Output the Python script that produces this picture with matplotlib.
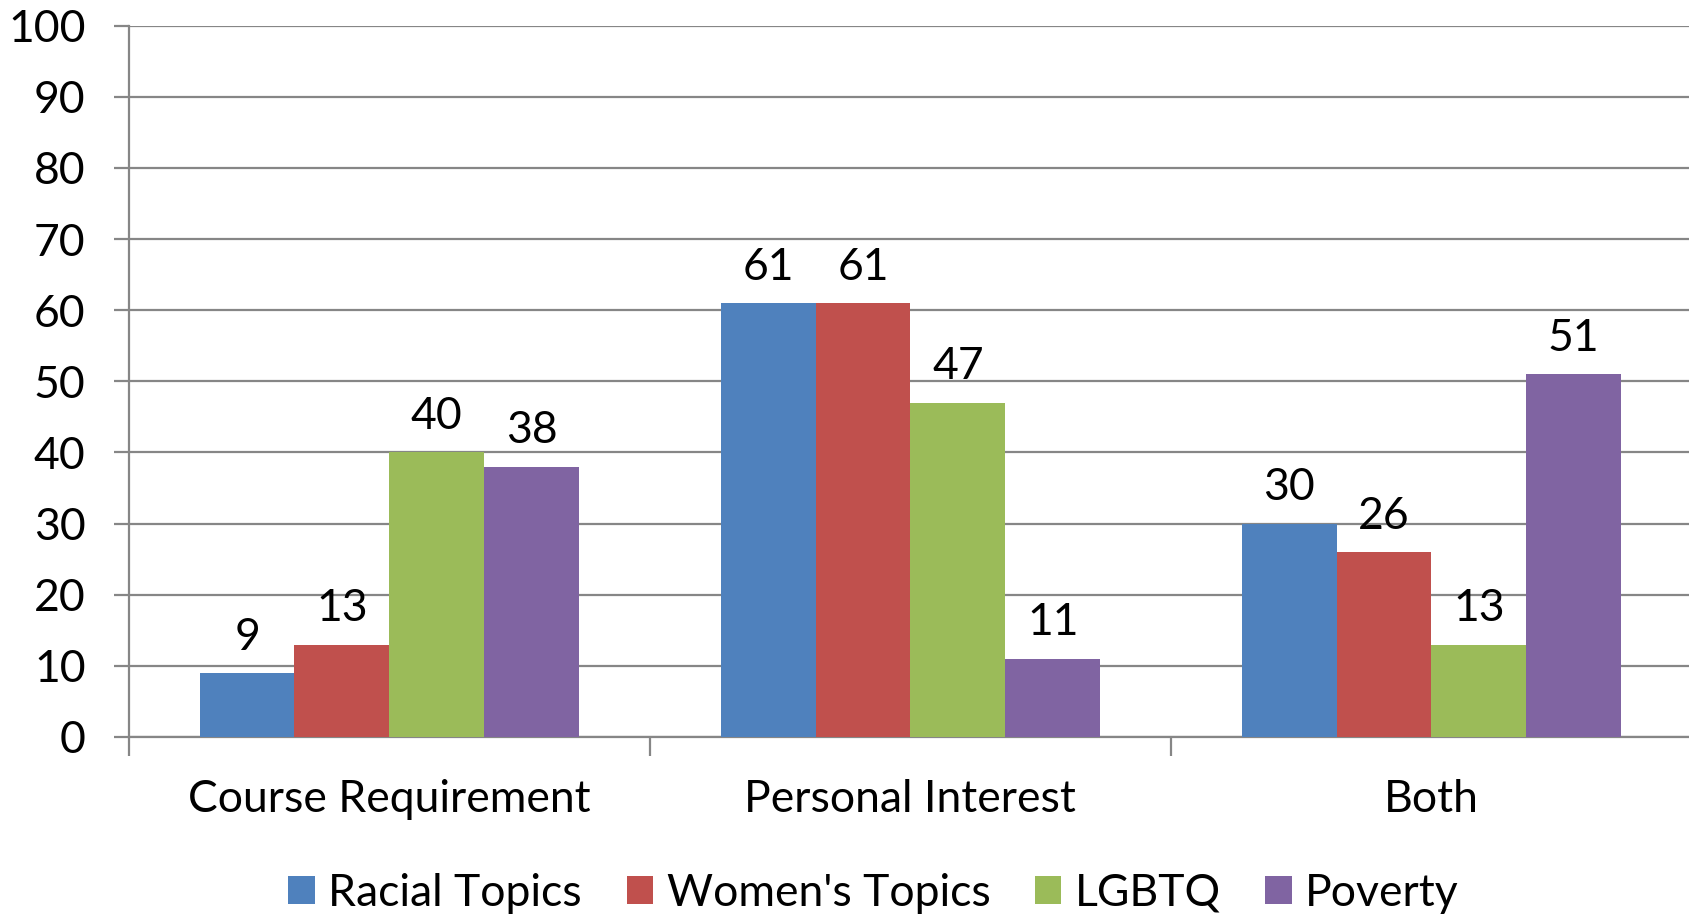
import numpy as np
import matplotlib
matplotlib.use("Agg")
import matplotlib.pyplot as plt

plt.rcParams['font.family'] = ['Lato', 'DejaVu Sans']

categories = ['Course Requirement', 'Personal Interest', 'Both']
series = ['Racial Topics', "Women's Topics", 'LGBTQ', 'Poverty']
racial = [9, 61, 30]
women = [13, 61, 26]
lgbtq = [40, 47, 13]
poverty = [38, 11, 51]
colors = ['#4F81BD', '#C0504D', '#9BBB59', '#8064A2']
yticks = list(range(0, 101, 10))

values = [racial, women, lgbtq, poverty]

fig = plt.figure(figsize=(16.9, 9.17), dpi=100)
ax = fig.add_axes([0.0762, 0.1963, 0.925, 0.7757])

grey = '#868686'
fs = 32
x = np.arange(len(categories))
w = 0.182
for i, (vals, c, name) in enumerate(zip(values, colors, series)):
    pos = x - 1.5 * w + i * w
    ax.bar(pos, vals, width=w, color=c, label=name, zorder=3)
    for p, v in zip(pos, vals):
        ax.annotate(str(v), (p, v), xytext=(0, 11), textcoords='offset points',
                    ha='center', va='bottom', fontsize=fs)

ax.set_xlim(-0.5, len(categories) - 0.5)
ax.set_ylim(0, 100)
ax.set_yticks(yticks)
ax.yaxis.grid(True, color=grey, linewidth=1.6, zorder=0)
ax.set_xticks(x)
ax.set_xticklabels(categories)
ax.set_xticks(np.arange(-0.5, len(categories)), minor=True)
ax.tick_params(axis='x', which='major', length=0, pad=30, labelsize=fs)
ax.tick_params(axis='x', which='minor', length=14, width=1.6, color=grey)
ax.tick_params(axis='y', length=11, width=1.6, color=grey, pad=20, labelsize=fs)

for s in ['top', 'right']:
    ax.spines[s].set_visible(False)
for s in ['left', 'bottom']:
    ax.spines[s].set_color(grey)
    ax.spines[s].set_linewidth(1.6)

fig.legend(loc='center', bbox_to_anchor=(0.517, 0.026), ncol=4, frameon=False,
           fontsize=fs, handlelength=0.6, handleheight=0.6, handletextpad=0.3,
           columnspacing=1.0, borderaxespad=0)

fig.savefig('out.png', dpi=100)
